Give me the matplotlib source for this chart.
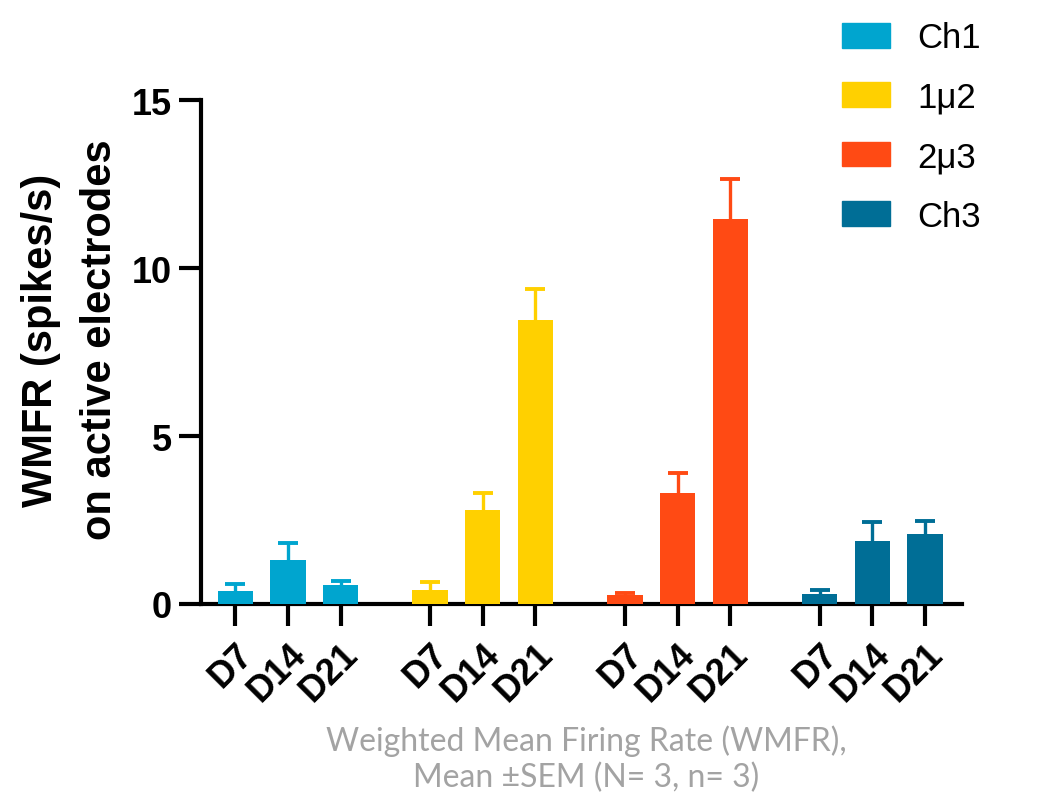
import matplotlib
matplotlib.use("Agg")
import matplotlib.pyplot as plt
import numpy as np
from matplotlib.patches import Patch

groups = ["Ch1", "1μ2", "2μ3", "Ch3"]
days = ["D7", "D14", "D21"]
colors = ["#00A5CF", "#FFD000", "#FF4A14", "#006E96"]
means = [
    [0.40, 1.30, 0.57],
    [0.43, 2.81, 8.45],
    [0.27, 3.30, 11.47],
    [0.31, 1.87, 2.09],
]
sems = [
    [0.20, 0.51, 0.11],
    [0.21, 0.49, 0.93],
    [0.07, 0.59, 1.19],
    [0.11, 0.57, 0.38],
]

plt.rcParams["font.family"] = ["Liberation Sans", "DejaVu Sans"]
fig = plt.figure(figsize=(10.49, 8.03), dpi=100)
ax = fig.add_axes([0.1916, 0.2466, 0.917 - 0.1916, 0.874 - 0.2466])

step = 3.7
xs, labels = [], []
for g, name in enumerate(groups):
    pos = g * step + np.arange(3)
    ax.bar(pos, means[g], width=0.67, color=colors[g], label=name, zorder=3)
    # symmetric bars drawn behind the columns -> only the upper half shows
    ax.errorbar(pos, means[g], yerr=sems[g], fmt="none", ecolor=colors[g],
                elinewidth=2.4, capsize=7, capthick=2.8, zorder=2)
    xs.extend(pos)
    labels.extend(days)

ax.set_xlim(-0.65, 13.8)
ax.set_ylim(0, 15)
ax.set_yticks([0, 5, 10, 15])
ax.set_xticks(xs)
ax.set_xticklabels(labels, rotation=45, ha="right", va="top",
                   rotation_mode="anchor", fontsize=26, fontweight="bold")
for lab in ax.get_yticklabels():
    lab.set_fontsize(26)
    lab.set_fontweight("bold")
for s in ["top", "right"]:
    ax.spines[s].set_visible(False)
for s in ["left", "bottom"]:
    ax.spines[s].set_linewidth(3)
ax.tick_params(axis="both", width=3, length=16)
ax.tick_params(axis="y", pad=5)
ax.tick_params(axis="x", pad=7)

ax.set_ylabel("WMFR (spikes/s)\non active electrodes", fontsize=30,
              fontweight="bold", linespacing=1.6)
ax.yaxis.set_label_coords(-0.107, 0.526)

handles = [Patch(color=c) for c in colors]
fig.legend(handles, groups, loc="upper left", bbox_to_anchor=(0.8027, 0.972),
           frameon=False, fontsize=25, handlelength=1.37, handleheight=0.71,
           labelspacing=0.76, handletextpad=0.8, borderpad=0, borderaxespad=0)

fig.text(0.559, 0.097, "Weighted Mean Firing Rate (WMFR),\nMean ±SEM (N= 3, n= 3)",
         ha="center", va="top", fontsize=23, color="#a3a3a3",
         family=["Lato", "DejaVu Sans"], linespacing=1.25)

fig.savefig("out.png", dpi=100)
